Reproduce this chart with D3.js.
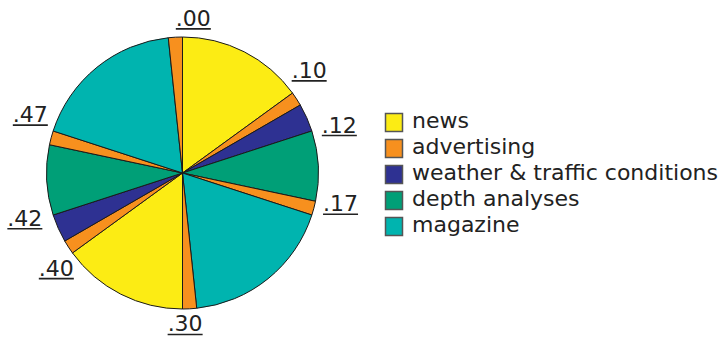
<!DOCTYPE html>
<html><head><meta charset="utf-8">
<script src="https://cdn.jsdelivr.net/npm/d3@7"></script>
<style>body{margin:0;background:#fff}svg{display:block}</style>
</head><body>
<script>
// Data: one hour of programme, segments in minutes, clockwise from the top
const categories = ["news","advertising","weather & traffic conditions","depth analyses","magazine"];
const segmentCategory = ["news","advertising","weather & traffic conditions","depth analyses","advertising","magazine","advertising",
                         "news","advertising","weather & traffic conditions","depth analyses","advertising","magazine","advertising"];
const segmentMinutes = [9,1,2,5,1,11,1, 9,1,2,5,1,11,1];
const tickLabels = [".00",".10",".12",".17",".30",".40",".42",".47"];
const tickMinutes = [0,10,12,17,30,40,42,47];

// Layout / style
const W = 719, H = 339;
const cx = 182.5, cy = 173, R = 136;
const colors = ["#FCEC14","#F7901E","#2E3192","#009F77","#00B4AF"];
const labelShiftDeg = [4,-9,1,-1,-1,-7,2,9];
const labelRadius = [155,163,164,161,151,158,164,163];

const svg = d3.select("body").append("svg").attr("width",W).attr("height",H);
const color = d3.scaleOrdinal().domain(categories).range(colors);
const angle = d3.scaleLinear().domain([0,60]).range([0,2*Math.PI]);

const segs = segmentMinutes.map((v,i)=>({v, cat: segmentCategory[i]}));
const pie = d3.pie().value(d=>d.v).sort(null).startAngle(0).endAngle(2*Math.PI);
const arc = d3.arc().innerRadius(0).outerRadius(R);

const g = svg.append("g").attr("transform",`translate(${cx},${cy})`);
g.selectAll("path").data(pie(segs)).join("path")
  .attr("d",arc).attr("fill",d=>color(d.data.cat))
  .attr("stroke","#1a1a1a").attr("stroke-width",1).attr("stroke-linejoin","round");

// Tick labels around the pie
tickLabels.forEach((t,i)=>{
  const a = angle(tickMinutes[i]) + labelShiftDeg[i]*Math.PI/180;
  const lr = labelRadius[i];
  const x = cx + lr*Math.sin(a), y = cy - lr*Math.cos(a);
  const txt = svg.append("text").attr("x",x).attr("y",y+7.5)
    .attr("text-anchor","middle").attr("font-family","DejaVu Sans, Verdana, sans-serif")
    .attr("font-size",22).attr("fill","#222").text(t);
  const w = txt.node().getComputedTextLength();
  svg.append("line").attr("x1",x-w/2).attr("x2",x+w/2)
    .attr("y1",y+10.5).attr("y2",y+10.5).attr("stroke","#222").attr("stroke-width",1.6);
});

// Legend
const lg = svg.append("g").attr("transform","translate(385,113)");
const rows = lg.selectAll("g").data(categories).join("g")
  .attr("transform",(d,i)=>`translate(0,${i*26})`);
rows.append("rect").attr("x",0.5).attr("y",0.5).attr("width",17).attr("height",18)
  .attr("fill",d=>color(d)).attr("stroke","#555").attr("stroke-width",1.5);
rows.append("text").attr("x",27).attr("y",14.5)
  .attr("font-family","DejaVu Sans, Verdana, sans-serif").attr("font-size",22)
  .attr("fill","#222").text(d=>d);
</script>
</body></html>
